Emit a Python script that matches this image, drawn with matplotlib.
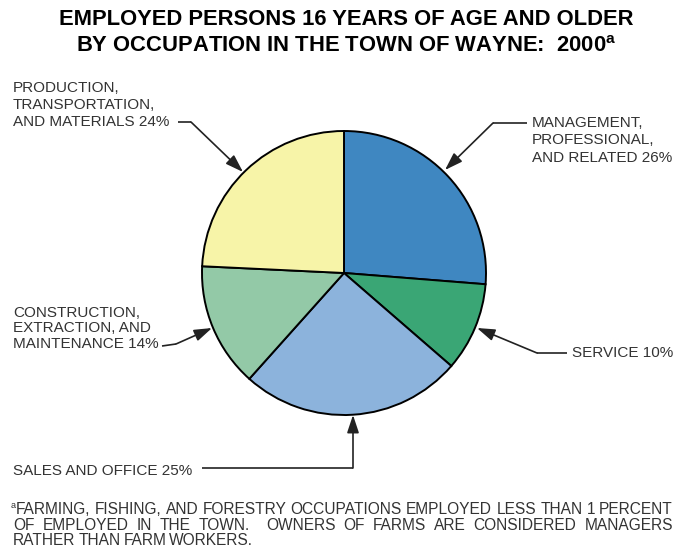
import numpy as np
import matplotlib.pyplot as plt

plt.rcParams['font.family'] = ['Liberation Sans', 'DejaVu Sans']
plt.rcParams['mathtext.fontset'] = 'custom'
plt.rcParams['mathtext.rm'] = 'Liberation Sans'
plt.rcParams['mathtext.bf'] = 'Liberation Sans:bold'

# data
categories = ['MANAGEMENT,\nPROFESSIONAL,\nAND RELATED',
              'SERVICE',
              'SALES AND OFFICE',
              'CONSTRUCTION,\nEXTRACTION, AND\nMAINTENANCE',
              'PRODUCTION,\nTRANSPORTATION,\nAND MATERIALS']
values = [26, 10, 25, 14, 24]
colors = ['#3f87c1', '#3aa675', '#8cb3dc', '#93c9a7', '#f7f4a8']

title_lines = ['EMPLOYED PERSONS 16 YEARS OF AGE AND OLDER',
               r'BY OCCUPATION IN THE TOWN OF WAYNE:  2000$^{\mathbf{a}}$']
footnote = ['FARMING, FISHING, AND FORESTRY OCCUPATIONS EMPLOYED LESS THAN 1 PERCENT',
            'OF EMPLOYED IN THE TOWN.  OWNERS OF FARMS ARE CONSIDERED MANAGERS',
            'RATHER THAN FARM WORKERS.']

W, H = 692, 552
fig = plt.figure(figsize=(W / 100, H / 100), dpi=100)
ax = fig.add_axes([0, 0, 1, 1])

# y axis is flipped below, so counterclock in data = clockwise on screen
ax.pie(values, colors=colors, center=(344, 273), radius=142,
       startangle=-90, counterclock=True, frame=True,
       wedgeprops=dict(edgecolor='black', linewidth=1.4))
ax.set_xlim(0, W)
ax.set_ylim(H, 0)   # pixel coords, y down
ax.axis('off')

# title
ax.text(346, 25, title_lines[0], ha='center', va='baseline', fontsize=15.8,
        fontweight='bold', color='black')
ax.text(346, 52, title_lines[1], ha='center', va='baseline', fontsize=15.8,
        fontweight='bold', color='black')

tc = '#333333'
fs = 11

# label text: (x, first baseline, line step)
label_pos = [(532, 127, 17.5), (572, 357, 17), (13, 475, 17),
             (13, 317, 15.5), (13, 92, 17)]
for cat, v, (x, y0, step) in zip(categories, values, label_pos):
    lines = cat.split('\n')
    lines[-1] = lines[-1] + f' {v}%'
    for i, ln in enumerate(lines):
        ax.text(x, y0 + i * step, ln, ha='left', va='baseline', fontsize=fs, color=tc)

# leader lines: polyline, last segment ends with arrow at the pie edge
leaders = [
    [(527, 123), (493, 123), (445, 170)],
    [(567, 353), (537, 353), (477, 328)],
    [(202, 468), (353, 468), (353, 415)],
    [(162, 346), (176, 344), (212, 328)],
    [(178, 122), (191, 122), (243, 172)],
]
lc = '#222222'
for pts in leaders:
    xs, ys = zip(*pts[:-1])
    ax.plot(xs, ys, color=lc, lw=1.2, solid_capstyle='butt')
    ax.annotate('', xy=pts[-1], xytext=pts[-2],
                arrowprops=dict(arrowstyle='-|>,head_length=0.9,head_width=0.3',
                                mutation_scale=12, color=lc, lw=1.2,
                                shrinkA=0, shrinkB=0))

# footnote, justified
fig.canvas.draw()
renderer = fig.canvas.get_renderer()
fn_fs = 11.2
fn_y = [514, 529.5, 545]
ax.text(11, fn_y[0] - 6, 'a', fontsize=6.5, color=tc, va='baseline')
left = [16, 13, 13]
right = 673
for i, (ln, y) in enumerate(zip(footnote, fn_y)):
    parts = ln.split(' ')
    words, weights = [], []
    for p in parts:
        if p:
            words.append(p)
            weights.append(1)
        elif weights:
            weights[-1] += 1
    txts = [ax.text(0, y, w, fontsize=fn_fs, color=tc, va='baseline') for w in words]
    widths = [t.get_window_extent(renderer).width for t in txts]
    if i == len(footnote) - 1:
        gap = 3
    else:
        gap = (right - left[i] - sum(widths)) / sum(weights[:-1])
    x = left[i]
    for t, w, k in zip(txts, widths, weights):
        t.set_x(x)
        x += w + gap * k

fig.savefig('out.png', dpi=100, facecolor='white')
